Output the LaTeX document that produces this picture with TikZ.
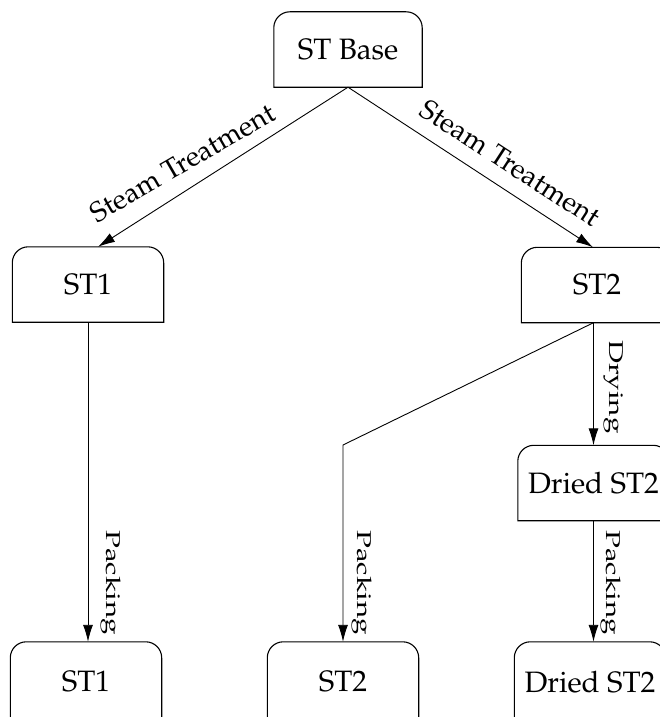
\documentclass[tikz,border=0pt]{standalone}
\usepackage[T1]{fontenc}
\usepackage{mathpazo}
\usetikzlibrary{arrows.meta,calc}

% outline of a tab-shaped box: rounded top corners, square bottom corners
\newcommand\tabbox[1]{%
  \draw[boxline] (#1.south west) -- ([yshift=-16pt]#1.north west)
    arc[start angle=180, end angle=90, radius=16pt]
    -- ([xshift=-16pt]#1.north east)
    arc[start angle=90, end angle=0, radius=16pt]
    -- (#1.south east) -- cycle;}

\begin{document}
\begin{tikzpicture}[x=1pt, y=-1pt,
  stagebox/.style={minimum width=151pt, minimum height=75pt, inner sep=0pt,
    font=\fontsize{29.5}{36}\selectfont},
  boxline/.style={line width=1.1pt, black},
  flow/.style={line width=0.9pt, -{Latex[length=17pt,width=10pt]}},
  edgelabel/.style={inner sep=0pt, anchor=base, font=\fontsize{28}{33}\selectfont},
  sidelabel/.style={inner sep=0pt, anchor=base west, rotate=-90,
    font=\fontsize{20}{24}\selectfont},
]
\useasboundingbox (0,0) rectangle (660,717);
\clip (0,0) rectangle (660,717);

% stages
\node[stagebox, minimum width=148pt] (base) at (348,49.5) {ST Base};
\node[stagebox] (st1)   at (88,284.5) {ST1};
\node[stagebox] (st2)   at (597,285) {ST2};
\node[stagebox] (dried) at (593.5,483) {Dried ST2};
\node[stagebox, minimum height=80pt] (out1) at (86,682) {ST1};
\node[stagebox, minimum height=80pt] (out2) at (343,682) {ST2};
\node[stagebox, minimum height=80pt] (out3) at (590,682) {Dried ST2};

\foreach \n in {base,st1,st2,dried,out1,out2,out3} {\tabbox{\n}}

% transitions
\draw[flow] (base.south) -- ([xshift=10pt]st1.north);
\draw[flow] (base.south) -- ([xshift=-4pt]st2.north);
\draw[flow] (st1.south) -- (st1.south |- out1.north);
\draw[flow] (dried.north |- st2.south) -- (dried.north);
\draw[flow] (dried.south) -- (dried.south |- out3.north);
\coordinate (bend) at (343,445);
\draw[flow] (dried.north |- st2.south) -- (bend) -- (out2.north);

% transition labels
\node[edgelabel, rotate=30] (lblA) at (187,171) {Steam Treatment};
\node[edgelabel, rotate=-33] (lblB) at (505,171) {Steam Treatment};
\node[sidelabel] (lblC) at (106,530) {\scalebox{1.48}[1]{Packing}};
\node[sidelabel] (lblD) at (357,530) {\scalebox{1.48}[1]{Packing}};
\node[sidelabel] (lblE) at (606,530) {\scalebox{1.48}[1]{Packing}};
\node[sidelabel] (lblF) at (609,340) {\scalebox{1.48}[1]{Drying}};
\end{tikzpicture}
\end{document}
